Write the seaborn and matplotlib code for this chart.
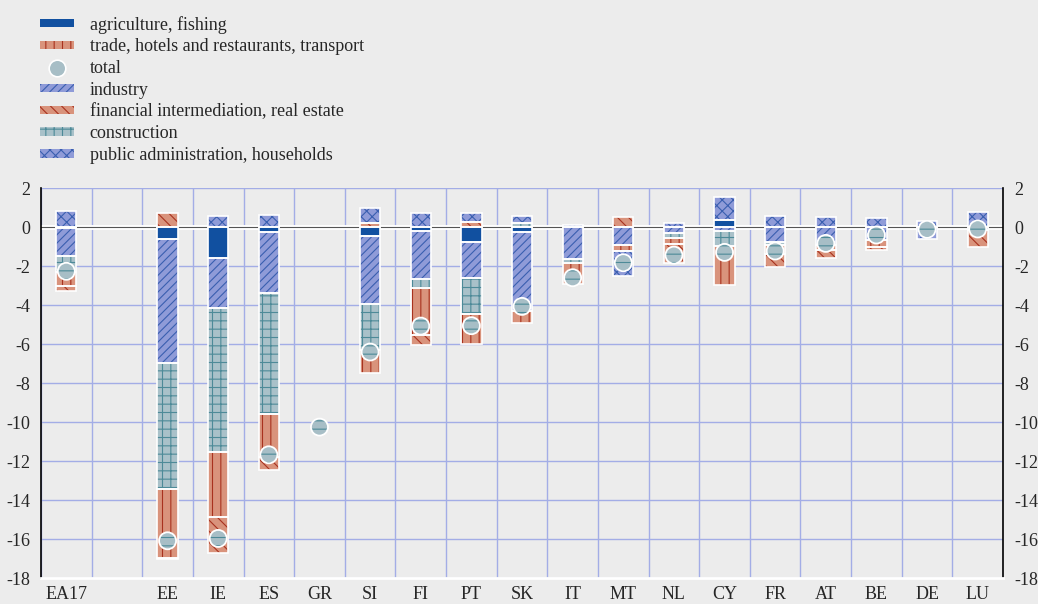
import numpy as np
import seaborn as sns
import matplotlib.pyplot as plt
from matplotlib.patches import Patch
from matplotlib.lines import Line2D

# =============================================================================
# DATA (percentage points)
# =============================================================================
countries = ["EA17", "", "EE", "IE", "ES", "GR", "SI", "FI", "PT", "SK",
             "IT", "MT", "NL", "CY", "FR", "AT", "BE", "DE", "LU"]

agriculture = [-0.05, 0, -0.62, -1.57, -0.27, 0, -0.45, -0.22, -0.75, -0.27,
               0, 0, 0, 0.35, 0, 0, 0, 0, 0]
industry = [-1.42, 0, -6.35, -2.60, -3.13, 0, -3.50, -2.46, -1.88, -4.02,
            -1.64, -0.92, -0.32, -0.19, -0.79, -0.92, -0.67, -0.60, -0.15]
construction = [-0.85, 0, -6.47, -7.39, -6.20, 0, -2.35, -0.43, -1.85, 0.20,
                -0.19, 0, -0.26, -0.78, -0.11, 0, 0, 0, 0]
trade = [-0.70, 0, -3.52, -3.30, -2.21, 0, -1.20, -2.44, -1.54, -0.62,
         -1.09, -0.31, -0.29, -2.00, -0.50, -0.26, -0.37, 0, 0]
financial = [-0.25, 0, 0.73, -1.84, -0.65, 0, 0.20, -0.50, 0.27, 0,
             0, 0.50, -0.96, 0, -0.63, -0.39, -0.14, 0, -0.86]
public = [0.84, 0, -0.06, 0.58, 0.62, 0, 0.76, 0.70, 0.43, 0.36,
          0.10, -1.28, 0.19, 1.20, 0.56, 0.53, 0.46, 0.30, 0.75]
total = [-2.27, np.nan, -16.09, -15.97, -11.68, -10.26, -6.41, -5.08, -5.06, -4.07,
         -2.60, -1.83, -1.44, -1.30, -1.23, -0.84, -0.41, -0.12, -0.10]

# stacking order: name, values, face, hatch colour, hatch
sectors = [
    ("agriculture, fishing", agriculture, "#1150a0", "#1150a0", ""),
    ("industry", industry, "#8f9bd8", "#3a5fb0", "////"),
    ("construction", construction, "#a9c1c9", "#4d8a98", "++"),
    ("trade, hotels and restaurants, transport", trade, "#d9937c", "#a8321f", "||"),
    ("financial intermediation, real estate", financial, "#d9937c", "#a8321f", "\\\\\\"),
    ("public administration, households", public, "#8f9bd8", "#3a5fb0", "xxx"),
]

sns.set_style("white", {"axes.facecolor": "#ececec", "figure.facecolor": "#ececec"})
plt.rcParams['font.family'] = ['Liberation Serif', 'DejaVu Serif']
plt.rcParams['axes.unicode_minus'] = False
plt.rcParams['hatch.linewidth'] = 0.8

fig = plt.figure(figsize=(10.38, 6.04), dpi=100)
ax = fig.add_axes([0.0395, 0.043, 0.9268, 0.6457])

x = np.arange(len(countries))
pos_base = np.zeros(len(countries))
neg_base = np.zeros(len(countries))
for name, vals, face, hcol, hatch in sectors:
    v = np.array(vals, dtype=float)
    bottom = np.where(v >= 0, pos_base, neg_base)
    h = np.where(v == 0, np.nan, v)
    ax.bar(x, h, 0.4, bottom=bottom, color=face, edgecolor=hcol, hatch=hatch,
           linewidth=0, zorder=3)
    ax.bar(x, h, 0.4, bottom=bottom, fill=False, edgecolor="white",
           linewidth=1.2, zorder=4)
    pos_base += np.where(v > 0, v, 0)
    neg_base += np.where(v < 0, v, 0)

# totals
sns.scatterplot(x=x, y=total, ax=ax, marker="o", s=150, color="#a7bec6",
                edgecolor="#4d8a98", hatch="--", linewidth=0, zorder=5, legend=False)
sns.scatterplot(x=x, y=total, ax=ax, marker="o", s=150, facecolor="none",
                edgecolor="white", linewidth=1.3, zorder=6, legend=False)

# zero line
ax.axhline(0, color="white", lw=3.5, zorder=2)
ax.axhline(0, color="#555555", lw=0.8, zorder=2.1)

ax.set_xlim(-0.5, len(countries) - 0.5)
ax.set_ylim(-18, 2)
ax.set_yticks(np.arange(-18, 3, 2))
ax.set_xticks(x)
ax.set_xticklabels(countries)
ax.set_xticks(np.arange(-0.5, len(countries), 1), minor=True)

ax.grid(True, which="minor", axis="x", color="#a3ade6", lw=1, zorder=0)
ax.grid(True, which="major", axis="y", color="#a3ade6", lw=1, zorder=0)
ax.set_axisbelow(True)

for s in ["left", "right"]:
    ax.spines[s].set_color("black")
    ax.spines[s].set_linewidth(1.2)
ax.spines["top"].set_visible(False)
ax.spines["bottom"].set_color("white")
ax.spines["bottom"].set_linewidth(2)

ax.tick_params(axis="y", left=True, right=True, labelleft=True, labelright=True,
               length=0, pad=8, labelsize=13)
ax.tick_params(axis="x", which="major", length=0, pad=6, labelsize=13)
ax.tick_params(axis="x", which="minor", length=5, width=1.2, color="black",
               direction="out")

# legend
handles = [
    Patch(facecolor="#1150a0", edgecolor="#1150a0", linewidth=0),
    Patch(facecolor="#d9937c", edgecolor="#a8321f", hatch="||", linewidth=0),
    Line2D([], [], marker="o", linestyle="none", markersize=12,
           markerfacecolor="#a7bec6", markeredgecolor="white", markeredgewidth=1.2),
    Patch(facecolor="#8f9bd8", edgecolor="#3a5fb0", hatch="////", linewidth=0),
    Patch(facecolor="#d9937c", edgecolor="#a8321f", hatch="\\\\\\", linewidth=0),
    Patch(facecolor="#a9c1c9", edgecolor="#4d8a98", hatch="++", linewidth=0),
    Patch(facecolor="#8f9bd8", edgecolor="#3a5fb0", hatch="xxx", linewidth=0),
]
labels = ["agriculture, fishing", "trade, hotels and restaurants, transport", "total",
          "industry", "financial intermediation, real estate", "construction",
          "public administration, households"]
fig.legend(handles, labels, loc="upper left", bbox_to_anchor=(0.0385, 0.974),
           frameon=False, fontsize=13, handlelength=1.9, handleheight=0.35,
           handletextpad=0.85, labelspacing=0.26, borderpad=0, borderaxespad=0)

plt.savefig("out.png", dpi=100, facecolor="#ececec")
